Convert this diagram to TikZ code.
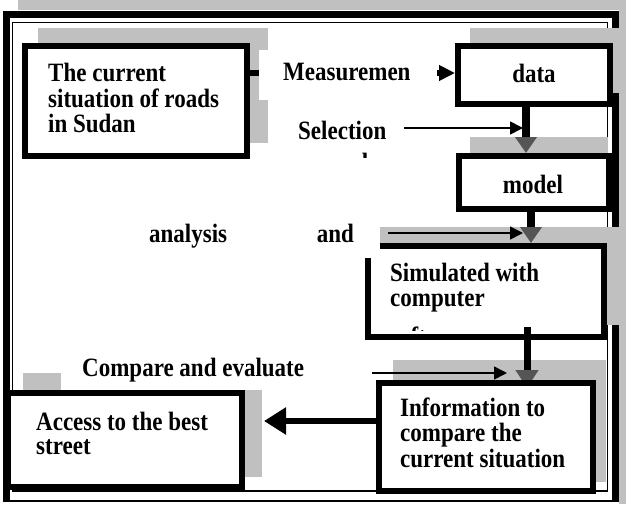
\documentclass[tikz,border=0pt]{standalone}
\usepackage{graphicx}
\usepackage{fontspec}
\setmainfont{Liberation Serif}
\usetikzlibrary{arrows.meta}
\definecolor{shadowgray}{HTML}{C0C0C0}
\definecolor{headgray}{HTML}{555555}
\newcommand{\tallbox}[1]{\scalebox{1}[1.15]{#1}}
\begin{document}
\begin{tikzpicture}[x=1pt,y=-1pt,
  boxs/.style={draw=black, fill=white, line width=6pt, inner sep=0pt, outer sep=3pt, rectangle},
  txt/.style={font=\fontsize{23}{21.7}\selectfont\bfseries, inner sep=0pt, anchor=base west},
  bigarrow/.style={line width=8pt},
  thinarrow/.style={line width=1.6pt, -{Triangle[length=13pt,width=13pt]}}
]
\useasboundingbox (0,0) rectangle (626,504);
\fill[white] (0,0) rectangle (626,504);
% frame shadow
\fill[shadowgray] (18,0) rectangle (626,10);
\fill[shadowgray] (619,0) rectangle (626,504);
% frame
\draw[line width=7pt] (6.5,502) -- (6.5,14.5) -- (615,14.5) -- (615,502);
\draw[line width=2pt] (3,501) -- (618,501);
\draw[line width=1.5pt] (12.5,22.5) rectangle (607.5,491);

% box 1 and data
\fill[shadowgray] (38,28) rectangle (268,143);
\fill[shadowgray] (470,28) rectangle (626,93);
\node[boxs, minimum width=222pt, minimum height=110pt] (box1) at (136,101) {};
\node[txt] (t1) at (48,81) {\tallbox{\begin{tabular}[t]{@{}l@{}}The current\\situation of roads\\in Sudan\end{tabular}}};
\node[boxs, minimum width=152pt, minimum height=58pt] (data) at (534,75) {};
\node[txt, anchor=base] (tdata) at (534,82) {\tallbox{data}};

% measurement arrow and label
\draw[line width=6pt, -{Triangle[length=16pt,width=15pt]}] (box1.east |- 0,73) -- (data.west |- 0,73);
\fill[white] (259,50) rectangle (437,100);
\node[txt] (tmeas) at (283,80) {\tallbox{Measuremen}};

% model
\fill[shadowgray] (470,137) rectangle (608,195);
\draw[bigarrow, -{Triangle[length=16pt,width=21pt,color=headgray]}] (526,0 |- data.south) -- (526,153);
\node[boxs, minimum width=150pt, minimum height=53pt] (model) at (534,182.5) {};
\node[txt, anchor=base] (tmodel) at (533,193) {\tallbox{model}};

% selection label
\node[txt] (tsel) at (298,139) {\tallbox{Selection}};
\begin{scope}
\clip (290,145) rectangle (400,157);
\node[txt] (tsel2) at (331,171) {\tallbox{and}};
\end{scope}
\coordinate (selstart) at (404,128);
\coordinate (selend) at (523,128);
\draw[thinarrow] (selstart) -- (selend);

% simulated
\fill[shadowgray] (380,227) rectangle (626,325);
\draw[bigarrow, -{Triangle[length=16pt,width=21pt,color=headgray]}] (531,0 |- model.south) -- (531,243);
\node[boxs, minimum width=236pt, minimum height=91pt] (sim) at (486,291.5) {};
\node[txt, font=\fontsize{23}{22.6}\selectfont\bfseries] (tsim) at (390,281) {\tallbox{\begin{tabular}[t]{@{}l@{}}Simulated with\\computer\end{tabular}}};
\begin{scope}
\clip (372,250) rectangle (600,330);
\node[txt] (tsim3) at (390,345) {\tallbox{software}};
\end{scope}

% analysis label
\fill[white] (140,215) rectangle (380,258);
\node[txt] (tana) at (149,242) {\tallbox{analysis\hspace*{84pt} and}};
\coordinate (anastart) at (388,233);
\coordinate (anaend) at (523,233);
\draw[thinarrow] (anastart) -- (anaend);

% information
\fill[shadowgray] (393,360) rectangle (606,482);
\coordinate (simout) at (527,327);
\draw[line width=7pt, -{Triangle[length=18pt,width=22pt,color=headgray]}] (simout) -- (527,388);
\node[boxs, minimum width=214pt, minimum height=108pt] (info) at (486,437) {};
\node[txt] (tinfo) at (400,416) {\tallbox{\begin{tabular}[t]{@{}l@{}}Information to\\compare the\\current situation\end{tabular}}};

% access
\fill[shadowgray] (23,373) rectangle (262,477);
\fill[white] (61,355) rectangle (372,390);
\node[txt] (tcomp) at (82,376) {\tallbox{Compare and evaluate}};
\node[boxs, minimum width=234pt, minimum height=94pt] (access) at (125,440) {};
\node[txt] (tacc) at (36,430) {\tallbox{\begin{tabular}[t]{@{}l@{}}Access to the best\\street\end{tabular}}};
\coordinate (accin) at (264,421);
\draw[line width=6.5pt, -{Triangle[length=22pt,width=26pt]}] (info.west |- accin) -- (accin);
\coordinate (compstart) at (372,373);
\coordinate (compend) at (507,373);
\draw[thinarrow] (compstart) -- (compend);
\end{tikzpicture}
\end{document}
